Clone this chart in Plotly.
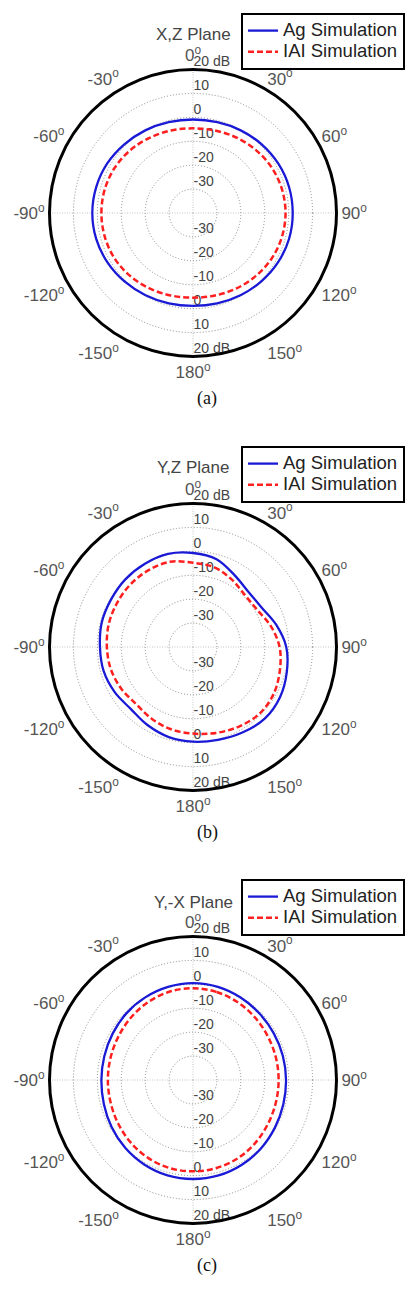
import plotly.graph_objects as go

# ---------------- data (dB) ----------------
ANGLES = [0, 15, 30, 45, 60, 75, 90, 105, 120, 135, 150, 165,
          180, 195, 210, 225, 240, 255, 270, 285, 300, 315, 330, 345]

XZ_AG = [-0.9, -0.7, -0.1, 0.6, 1.2, 1.6, 1.7, 1.6, 1.1, 0.4, -0.3, -0.9,
         -1.2, -0.9, -0.3, 0.5, 1.3, 1.9, 2.1, 1.9, 1.4, 0.6, -0.1, -0.7]
XZ_IAI = [-4.6, -4.3, -3.6, -2.8, -2.0, -1.5, -1.3, -1.5, -2.0, -2.8, -3.6, -4.3,
          -4.6, -4.3, -3.6, -2.8, -2.1, -1.8, -1.7, -1.8, -2.2, -2.9, -3.7, -4.3]

YZ_AG = [-0.7, -2.0, -5.3, -7.3, -6.9, -4.0, -1.0, 0.6, 2.0, 2.4, 1.3, 0.2,
         -0.4, -1.0, -2.2, -3.3, -2.2, -1.3, -1.1, -0.5, -0.4, 0.0, 0.2, 0.3]
YZ_IAI = [-4.8, -5.5, -7.5, -9.3, -9.0, -6.3, -3.8, -2.4, -1.0, -0.6, -1.6, -2.8,
          -3.8, -4.4, -5.4, -6.3, -5.3, -4.4, -4.0, -3.5, -3.3, -3.0, -2.9, -3.1]

YX_AG = [0.5, 0.3, -0.2, -0.7, -1.0, -1.1, -1.1, -0.9, -0.4, 0.3, 0.9, 1.3,
         1.4, 1.3, 0.8, 0.1, -0.7, -1.4, -1.7, -1.6, -1.2, -0.6, -0.1, 0.3]
YX_IAI = [-1.6, -1.9, -2.5, -3.2, -3.8, -4.1, -4.2, -4.1, -3.7, -3.0, -2.3, -1.9,
          -1.8, -1.9, -2.4, -3.1, -3.8, -4.3, -4.4, -4.3, -3.9, -3.2, -2.4, -1.8]

PLANES = ["X,Z Plane", "Y,Z Plane", "Y,-X Plane"]
CAPTIONS = ["(a)", "(b)", "(c)"]
SERIES_NAMES = ["Ag Simulation", "IAI Simulation"]

ANG_TICKS = [0, 30, 60, 90, 120, 150, 180, 210, 240, 270, 300, 330]
ANG_TEXT = ["0", "30", "60", "90", "120", "150", "180", "-150", "-120", "-90", "-60", "-30"]
RAD_RANGE = [-40, 20]
RAD_TICKS = [-30, -20, -10, 0, 10, 20]
RAD_TEXT = ["-30", "-20", "-10", "0", "10", "20 dB"]

# ---------------- layout constants ----------------
W, H = 412, 1292
CX = 193
R = 143.5
CENTERS = [213, 647, 1080]
LABEL_SHIFT = 8
LEG_TOP = [13, 446, 879]
LEG_LEFT = 241
TITLE_Y = [35, 468, 902]
CAP_Y = [398, 832, 1265]

FONT = "Liberation Sans, Arial, sans-serif"
BLUE = "#1a1ad6"
RED = "#ff1f1f"


def dom(cy):
    return dict(x=[(CX - R) / W, (CX + R) / W],
                y=[1 - (cy + R) / H, 1 - (cy - R) / H])


def big(name):
    return '<span style="font-size:18.5px">' + name + '</span>'


fig = go.Figure()
data_sets = [(XZ_AG, XZ_IAI), (YZ_AG, YZ_IAI), (YX_AG, YX_IAI)]
layout = dict(width=W, height=H, margin=dict(l=0, r=0, t=0, b=0),
              paper_bgcolor="white", plot_bgcolor="white",
              font=dict(family=FONT), annotations=[])

hidden_angular = dict(visible=False, rotation=90, direction="clockwise")

for i, (ag, iai) in enumerate(data_sets):
    base = 4 * i + 1
    ids = ["polar" if base == 1 else f"polar{base}",
           f"polar{base + 1}", f"polar{base + 2}", f"polar{base + 3}"]
    cy = CENTERS[i]
    # background polar: cross lines only
    layout[ids[0]] = dict(
        domain=dom(cy), bgcolor="white",
        angularaxis=dict(rotation=90, direction="clockwise",
                         tickvals=[0, 90, 180, 270], showticklabels=False, ticks="",
                         showgrid=True, gridcolor="#c4c4c4", griddash="1px,1.5px",
                         gridwidth=1, showline=False),
        radialaxis=dict(range=RAD_RANGE, showgrid=False, showticklabels=False,
                        showline=False, ticks=""))
    # radial labels (upwards & downwards)
    for k, (ang, side, tang) in enumerate([(90, "clockwise", 90),
                                           (270, "counterclockwise", -90)]):
        layout[ids[1 + k]] = dict(
            domain=dom(cy - LABEL_SHIFT), bgcolor="rgba(0,0,0,0)",
            angularaxis=hidden_angular,
            radialaxis=dict(range=RAD_RANGE, angle=ang, side=side,
                            tickvals=RAD_TICKS, ticktext=RAD_TEXT,
                            showgrid=False, showline=False, ticks="",
                            tickangle=tang,
                            tickfont=dict(size=14, color="#444", family=FONT)))
    # main polar with rings and data
    layout[ids[3]] = dict(
        domain=dom(cy), bgcolor="rgba(0,0,0,0)",
        angularaxis=dict(rotation=90, direction="clockwise",
                         tickvals=ANG_TICKS,
                         ticktext=[t + "<sup>o</sup>" for t in ANG_TEXT],
                         ticks="", showgrid=False, showline=True,
                         linecolor="black", linewidth=3,
                         tickfont=dict(size=17, color="#555", family=FONT)),
        radialaxis=dict(range=RAD_RANGE, tickvals=RAD_TICKS[:-1],
                        showgrid=True, gridcolor="#8a8a8a", griddash="1px,2px",
                        gridwidth=1.2, showticklabels=False, showline=False, ticks=""))
    for pid in ids[:3]:
        fig.add_trace(go.Scatterpolar(r=[], theta=[], subplot=pid,
                                      showlegend=False, hoverinfo="skip"))
    leg = "legend" if i == 0 else f"legend{i + 1}"
    th = ANGLES + [ANGLES[0]]
    fig.add_trace(go.Scatterpolar(
        r=ag + [ag[0]], theta=th, subplot=ids[3], mode="lines",
        name=big(SERIES_NAMES[0]), legend=leg,
        line=dict(color=BLUE, width=2.3, shape="spline", smoothing=1)))
    fig.add_trace(go.Scatterpolar(
        r=iai + [iai[0]], theta=th, subplot=ids[3], mode="lines",
        name=big(SERIES_NAMES[1]), legend=leg,
        line=dict(color=RED, width=2.5, dash="6px,3px", shape="spline", smoothing=1)))
    layout[leg] = dict(x=LEG_LEFT / W, y=1 - LEG_TOP[i] / H, xanchor="left", yanchor="top",
                       bgcolor="white", bordercolor="black", borderwidth=2,
                       font=dict(size=14, color="#222", family=FONT),
                       itemwidth=30, tracegroupgap=0)
    layout["annotations"].append(dict(
        text=PLANES[i], x=CX / W, y=1 - TITLE_Y[i] / H, xref="paper", yref="paper",
        xanchor="center", yanchor="middle", showarrow=False,
        font=dict(size=17, color="#444", family=FONT)))
    layout["annotations"].append(dict(
        text=CAPTIONS[i], x=207 / W, y=1 - CAP_Y[i] / H, xref="paper", yref="paper",
        xanchor="center", yanchor="middle", showarrow=False,
        font=dict(size=18, color="#111", family="Liberation Serif, Times New Roman, serif")))

fig.update_layout(**layout)
fig.write_html("out.html")
